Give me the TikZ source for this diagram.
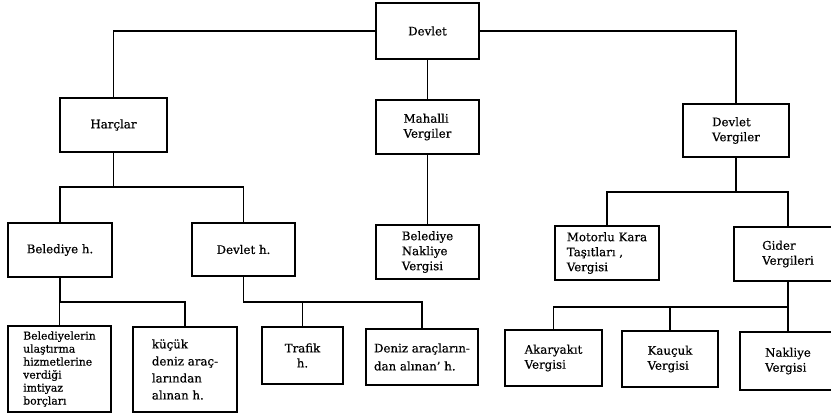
\documentclass[tikz,border=0pt]{standalone}
\usepackage{fontspec}
\setmainfont{DejaVu Serif}[FakeBold=0.6]
\begin{document}
\begin{tikzpicture}[x=1pt,y=-1pt,
  box/.style={draw,line width=1.1pt,inner sep=2pt,align=left,
    font=\fontsize{11.8}{15}\selectfont},
  conn/.style={line width=1.1pt}]
\useasboundingbox (0,0) rectangle (831,414);
\clip (0,0) rectangle (831,414);
\newcommand\tbox[7][]{%
  \node[box,#1,minimum width={(#5-#3)*1pt},minimum height={(#6-#4)*1pt}]
    (#2) at ({(#3+#5)/2},{(#4+#6)/2}) {#7};}
% level 0
\tbox{devlet}{376}{3}{479}{59}{Devlet}
% level 1
\tbox{harclar}{60}{98}{167}{152}{Harçlar}
\tbox{mahalli}{376}{100}{479}{154}{Mahalli\\Vergiler}
\tbox{devver}{683}{104}{789}{157}{Devlet\\Vergiler}
% level 2
\tbox{belh}{8}{223}{112}{277}{Belediye h.}
\tbox{devh}{192}{223}{295}{276}{Devlet h.}
\tbox{belnak}{376}{225}{479}{279}{Belediye\\Nakliye\\Vergisi}
\tbox{motorlu}{555}{226}{659}{280}{Motorlu Kara\\Taşıtları ,\\Vergisi}
\tbox{gider}{734}{227}{842}{281}{Gider\\Vergileri}
% level 3
\tbox[font=\fontsize{10.8}{13}\selectfont]{belediyelerin}{8}{326}{111}{412}{Belediyelerin\\ulaştırma\\hizmetlerine\\verdiği\\imtiyaz\\borçları}
\tbox[font=\fontsize{11.8}{17}\selectfont]{kucuk}{133}{327}{237}{412}{küçük\\deniz araç-\\larından\\alınan h.}
\tbox[align=center]{trafik}{262}{327}{343}{384}{Trafik\\h.}
\tbox[font=\fontsize{11.8}{18}\selectfont]{deniz}{366}{329}{478}{385}{Deniz araçların-\\dan alınan' h.}
\tbox{akar}{505}{330}{602}{386}{Akaryakıt\\Vergisi}
\tbox{kaucuk}{622}{331}{718}{387}{Kauçuk\\Vergisi}
\tbox{nakliye}{740}{332}{836}{390}{Nakliye\\Vergisi}
% junction coordinates
\coordinate (hb) at (113.5,187);
\coordinate (bb) at (60,302);
\coordinate (db) at (243.5,302);
\coordinate (vb) at (736,192);
\coordinate (gb) at (788,307);
% connectors
\draw[conn] (devlet.west) -| (harclar.north);
\draw[conn] (devlet.east) -| (devver.north);
\draw[conn] (devlet.south) -- (mahalli.north);
\draw[conn] (mahalli.south) -- (belnak.north);
\draw[conn] (harclar.south) -- (hb);
\draw[conn] (belh.north) |- (hb) -| (devh.north);
\draw[conn] (belh.south) -- (bb);
\draw[conn] (belediyelerin.north) |- (bb) -| (kucuk.north);
\draw[conn] (devh.south) -- (db) -| (deniz.north);
\draw[conn] (trafik.north) -- (trafik.north |- db);
\draw[conn] (devver.south) -- (vb);
\draw[conn] (motorlu.north) |- (vb) -| (gider.north);
\draw[conn] (gider.south) -- (gb);
\draw[conn] (akar.north) |- (gb) -- (nakliye.north);
\draw[conn] (kaucuk.north) -- (kaucuk.north |- gb);
\end{tikzpicture}
\end{document}
